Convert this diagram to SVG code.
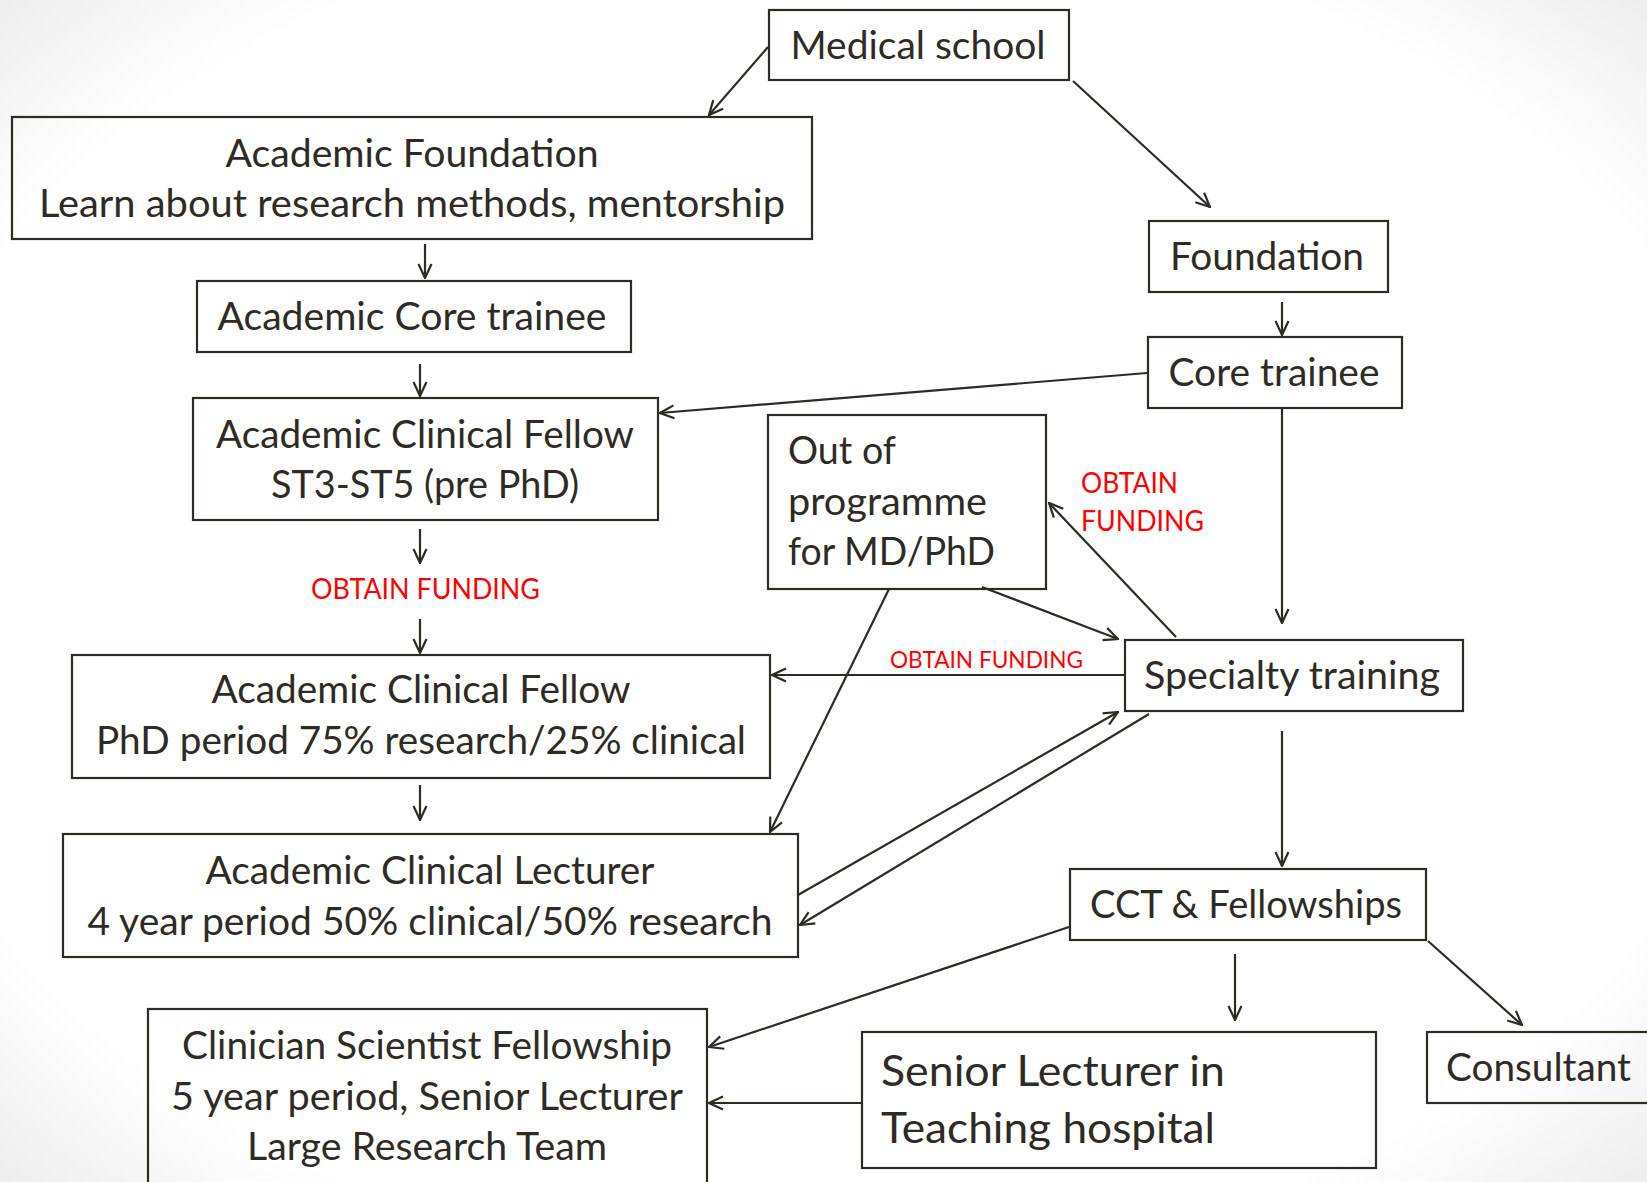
<svg xmlns="http://www.w3.org/2000/svg" width="1647" height="1182" viewBox="0 0 1647 1182">
<defs>
<radialGradient id="bg" cx="0.5" cy="0.5" r="0.72">
<stop offset="0" stop-color="#ffffff"/>
<stop offset="0.8" stop-color="#ffffff"/>
<stop offset="1" stop-color="#ececec"/>
</radialGradient>
<marker id="arr" viewBox="0 0 16 16" refX="15" refY="8" markerWidth="16" markerHeight="16" markerUnits="userSpaceOnUse" orient="auto">
<path d="M1,1.5 L15,8 L1,14.5" fill="none" stroke="#2e2b25" stroke-width="2.2"/>
</marker>
<style>
.box{fill:none;stroke:#2e2b25;stroke-width:2.2}
.t{font-family:Lato,"Liberation Sans",sans-serif;font-size:38px;fill:#2e2b25}
.c{text-anchor:middle}
.big{font-size:43px}
.red{font-family:Lato,"Liberation Sans",sans-serif;font-size:28px;fill:#ff0000}
.sm{font-size:23.5px}
.ln{fill:none;stroke:#2e2b25;stroke-width:2.2;marker-end:url(#arr)}
</style>
</defs>
<rect x="0" y="0" width="1647" height="1182" fill="url(#bg)"/>

<g id="connectors">
<line class="ln" x1="768" y1="47" x2="709" y2="115"/>
<line class="ln" x1="1073" y1="81" x2="1210" y2="207"/>
<line class="ln" x1="425" y1="244" x2="425" y2="278"/>
<line class="ln" x1="420" y1="364" x2="420" y2="396"/>
<line class="ln" x1="1282" y1="302" x2="1282" y2="335"/>
<line class="ln" x1="1147" y1="373" x2="660" y2="413"/>
<line class="ln" x1="1282" y1="409" x2="1282" y2="623"/>
<line class="ln" x1="420" y1="529" x2="420" y2="563"/>
<line class="ln" x1="420" y1="619" x2="420" y2="653"/>
<line class="ln" x1="1176" y1="637" x2="1049" y2="503"/>
<line class="ln" x1="982" y1="587" x2="1118" y2="639"/>
<line class="ln" x1="1125" y1="675" x2="772" y2="675"/>
<line class="ln" x1="889" y1="589" x2="770" y2="832"/>
<line class="ln" x1="420" y1="785" x2="420" y2="820"/>
<line class="ln" x1="798" y1="895" x2="1118" y2="712"/>
<line class="ln" x1="1149" y1="714" x2="800" y2="925"/>
<line class="ln" x1="1282" y1="731" x2="1282" y2="866"/>
<line class="ln" x1="1069" y1="927" x2="709" y2="1047"/>
<line class="ln" x1="1235" y1="954" x2="1235" y2="1020"/>
<line class="ln" x1="1428" y1="941" x2="1522" y2="1025"/>
<line class="ln" x1="861" y1="1103" x2="709" y2="1103"/>
</g>

<g id="medical-school">
<rect class="box" x="769" y="10" width="300" height="70"/>
<text class="t c" x="918" y="59" textLength="255" lengthAdjust="spacingAndGlyphs">Medical school</text>
</g>

<g id="academic-foundation">
<rect class="box" x="12" y="117" width="800" height="122"/>
<text class="t c" x="412" y="167" textLength="373" lengthAdjust="spacingAndGlyphs">Academic Foundation</text>
<text class="t c" x="412" y="217" textLength="746" lengthAdjust="spacingAndGlyphs">Learn about research methods, mentorship</text>
</g>

<g id="academic-core-trainee">
<rect class="box" x="197" y="281" width="434" height="71"/>
<text class="t c" x="412" y="330" textLength="389" lengthAdjust="spacingAndGlyphs">Academic Core trainee</text>
</g>

<g id="acf-pre-phd">
<rect class="box" x="193" y="398" width="465" height="122"/>
<text class="t c" x="425" y="448" textLength="418" lengthAdjust="spacingAndGlyphs">Academic Clinical Fellow</text>
<text class="t c" x="425" y="498" textLength="308" lengthAdjust="spacingAndGlyphs">ST3-ST5 (pre PhD)</text>
</g>

<g id="foundation">
<rect class="box" x="1149" y="221" width="239" height="71"/>
<text class="t c" x="1267" y="270" textLength="194" lengthAdjust="spacingAndGlyphs">Foundation</text>
</g>

<g id="core-trainee">
<rect class="box" x="1148" y="337" width="254" height="71"/>
<text class="t c" x="1274" y="386" textLength="211" lengthAdjust="spacingAndGlyphs">Core trainee</text>
</g>

<g id="out-of-programme">
<rect class="box" x="768" y="415" width="278" height="174"/>
<text class="t" x="788" y="464" textLength="108" lengthAdjust="spacingAndGlyphs">Out of</text>
<text class="t" x="788" y="515" textLength="199" lengthAdjust="spacingAndGlyphs">programme</text>
<text class="t" x="788" y="565" textLength="207" lengthAdjust="spacingAndGlyphs">for MD/PhD</text>
</g>

<g id="specialty-training">
<rect class="box" x="1125" y="640" width="338" height="71"/>
<text class="t c" x="1292" y="689" textLength="296" lengthAdjust="spacingAndGlyphs">Specialty training</text>
</g>

<g id="acf-phd">
<rect class="box" x="72" y="655" width="698" height="123"/>
<text class="t c" x="421" y="703" textLength="419" lengthAdjust="spacingAndGlyphs">Academic Clinical Fellow</text>
<text class="t c" x="421" y="754" textLength="650" lengthAdjust="spacingAndGlyphs">PhD period 75% research/25% clinical</text>
</g>

<g id="academic-clinical-lecturer">
<rect class="box" x="63" y="834" width="735" height="123"/>
<text class="t c" x="430" y="884" textLength="449" lengthAdjust="spacingAndGlyphs">Academic Clinical Lecturer</text>
<text class="t c" x="430" y="935" textLength="685" lengthAdjust="spacingAndGlyphs">4 year period 50% clinical/50% research</text>
</g>

<g id="cct-fellowships">
<rect class="box" x="1070" y="869" width="356" height="71"/>
<text class="t c" x="1246" y="918" textLength="312" lengthAdjust="spacingAndGlyphs">CCT &amp; Fellowships</text>
</g>

<g id="clinician-scientist-fellowship">
<rect class="box" x="148" y="1009" width="559" height="190"/>
<text class="t c" x="427" y="1059" textLength="490" lengthAdjust="spacingAndGlyphs">Clinician Scientist Fellowship</text>
<text class="t c" x="427" y="1110" textLength="512" lengthAdjust="spacingAndGlyphs">5 year period, Senior Lecturer</text>
<text class="t c" x="427" y="1160" textLength="360" lengthAdjust="spacingAndGlyphs">Large Research Team</text>
</g>

<g id="senior-lecturer">
<rect class="box" x="862" y="1032" width="514" height="136"/>
<text class="t big" x="881" y="1086" textLength="344" lengthAdjust="spacingAndGlyphs">Senior Lecturer in</text>
<text class="t big" x="881" y="1143" textLength="334" lengthAdjust="spacingAndGlyphs">Teaching hospital</text>
</g>

<g id="consultant">
<rect class="box" x="1427" y="1032" width="240" height="71"/>
<text class="t" x="1446" y="1081" textLength="185" lengthAdjust="spacingAndGlyphs">Consultant</text>
</g>

<g id="labels">
<text class="red c" x="425.5" y="599" textLength="229" lengthAdjust="spacingAndGlyphs">OBTAIN FUNDING</text>
<text class="red" x="1081" y="493" textLength="97" lengthAdjust="spacingAndGlyphs">OBTAIN</text>
<text class="red" x="1081" y="531" textLength="123" lengthAdjust="spacingAndGlyphs">FUNDING</text>
<text class="red sm" x="890" y="668" textLength="193" lengthAdjust="spacingAndGlyphs">OBTAIN FUNDING</text>
</g>
</svg>
